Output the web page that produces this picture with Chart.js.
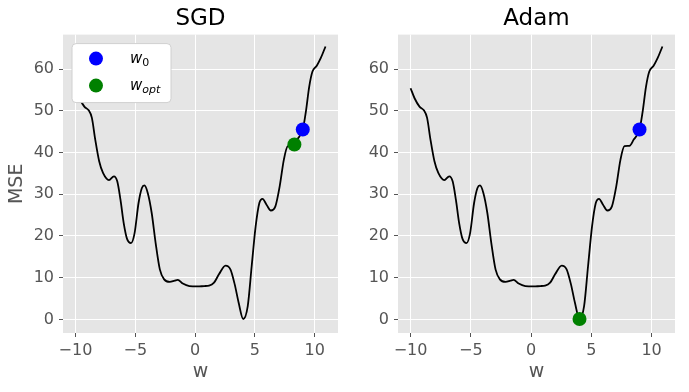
<!DOCTYPE html>
<html>
<head>
<meta charset="utf-8">
<script src="https://cdn.jsdelivr.net/npm/chart.js@4.4.0/dist/chart.umd.min.js"></script>
<style>
  html, body { margin: 0; padding: 0; background: #fff; }
  #wrap { display: flex; width: 689px; height: 392px; }
  canvas { display: block; }
</style>
</head>
<body>
<div id="wrap">
  <canvas id="sgdChart" width="345" height="392"></canvas>
  <canvas id="adamChart" width="344" height="392"></canvas>
</div>
<script>
// Dane krzywej
const wValues = [-10, -9.67, -9.26, -8.9, -8.63, -8.35, -8.02, -7.7, -7.2, -6.79, -6.51, -6.24,
  -5.97, -5.69, -5.36, -5.06, -4.73, -4.45, -4.24, -3.96, -3.63, -3.3, -2.95, -2.59, -2.12,
  -1.71, -1.45, -1.03, -0.48, 0.2, 0.76, 1.17, 1.58, 1.99, 2.54, 2.95, 3.31, 3.64, 4.02, 4.4,
  4.73, 5.06, 5.37, 5.64, 5.97, 6.33, 6.71, 7.07, 7.42, 7.75, 8.16, 8.52, 9.01, 9.26, 9.54,
  9.81, 10.17, 10.5, 10.9];
const mseValues = [55.4, 53.0, 51.0, 50.1, 48.3, 43.1, 37.9, 35.1, 33.4, 34.3, 33.1, 28.7,
  23.1, 19.3, 18.3, 20.7, 27.9, 31.5, 32.1, 30.3, 25.5, 18.3, 12.0, 9.6, 9.0,
  9.3, 9.5, 8.6, 8.0, 7.9, 8.0, 8.1, 8.8, 10.8, 12.9, 12.0, 8.4, 4.0, 0.1, 3.2,
  12.8, 22.3, 27.9, 28.9, 27.5, 26.1, 27.1, 31.9, 38.3, 41.5, 41.6, 43.1, 45.6, 49.8, 55.8,
  59.4, 60.8, 62.6, 65.4];

// Punkty startowe i końcowe
const w0Point = [9.0, 45.5];
const sgdOptPoint = [8.3, 41.9];
const adamOptPoint = [4.02, 0.1];

const xTicks = [-10, -5, 0, 5, 10];
const yTicks = [0, 10, 20, 30, 40, 50, 60];

const FONT = '"DejaVu Sans", sans-serif';
const curve = wValues.map((w, i) => ({ x: w, y: mseValues[i] }));

// Szare tło obszaru wykresu
const panelBg = {
  id: 'panelBg',
  beforeDraw(chart) {
    const { ctx, chartArea: a } = chart;
    ctx.save();
    ctx.fillStyle = '#e5e5e5';
    ctx.fillRect(a.left, a.top, a.width, a.height);
    ctx.restore();
  }
};

// Legenda z indeksami dolnymi (w_0, w_opt)
const mathLegend = {
  id: 'mathLegend',
  afterDatasetsDraw(chart) {
    const { ctx, chartArea: a } = chart;
    const bx = a.left + 9, by = a.top + 9, bw = 99, bh = 59;
    ctx.save();
    ctx.beginPath();
    ctx.roundRect(bx, by, bw, bh, 4);
    ctx.fillStyle = '#ffffff';
    ctx.fill();
    ctx.strokeStyle = '#d0d0d0';
    ctx.lineWidth = 1;
    ctx.stroke();

    const rows = [
      { color: '#0000ff', sub: '0', subItalic: false, y: by + 15 },
      { color: '#008000', sub: 'opt', subItalic: true, y: by + 42 }
    ];
    rows.forEach(r => {
      ctx.beginPath();
      ctx.arc(bx + 24, r.y, 7, 0, Math.PI * 2);
      ctx.fillStyle = r.color;
      ctx.fill();
      ctx.fillStyle = '#000';
      ctx.textBaseline = 'alphabetic';
      ctx.textAlign = 'left';
      ctx.font = 'italic 15px ' + FONT;
      ctx.fillText('w', bx + 58, r.y + 4);
      const ww = ctx.measureText('w').width;
      ctx.font = (r.subItalic ? 'italic ' : '') + '11px ' + FONT;
      ctx.fillText(r.sub, bx + 58 + ww, r.y + 7);
    });
    ctx.restore();
  }
};

function fmtTick(v) {
  return v < 0 ? '\u2212' + Math.abs(v) : String(v);
}

function createChart(canvasId, titleText, optPoint, opts) {
  const datasets = [
    {
      data: [{ x: optPoint[0], y: optPoint[1] }],
      showLine: false, pointRadius: 7, pointHoverRadius: 7,
      pointBackgroundColor: '#008000', pointBorderWidth: 0, order: 0
    },
    {
      data: [{ x: w0Point[0], y: w0Point[1] }],
      showLine: false, pointRadius: 7, pointHoverRadius: 7,
      pointBackgroundColor: '#0000ff', pointBorderWidth: 0, order: 0
    },
    {
      data: curve,
      borderColor: '#000000', borderWidth: 1.8, pointRadius: 0,
      cubicInterpolationMode: 'monotone', fill: false, order: 1
    }
  ];

  return new Chart(document.getElementById(canvasId), {
    type: 'line',
    data: { datasets: datasets },
    plugins: opts.legend ? [panelBg, mathLegend] : [panelBg],
    options: {
      responsive: false,
      animation: false,
      devicePixelRatio: 1,
      events: [],
      layout: { padding: { left: 0, right: opts.padRight, top: 0, bottom: 0 } },
      plugins: {
        legend: { display: false },
        tooltip: { enabled: false },
        title: {
          display: true, text: titleText, fullSize: false, color: '#000',
          font: { family: FONT, size: 23, weight: 'normal', lineHeight: 1.2 },
          padding: { top: 5, bottom: 2 }
        }
      },
      scales: {
        x: {
          type: 'linear', min: -11.045, max: 11.945,
          afterBuildTicks: s => { s.ticks = xTicks.map(v => ({ value: v })); },
          afterFit: s => { s.height = 59; s.paddingLeft = 0; s.paddingRight = 0; },
          grid: { color: '#ffffff', lineWidth: 1, tickLength: 4, tickColor: '#555555', tickWidth: 1 },
          border: { display: false },
          ticks: { color: '#555555', padding: 4, maxRotation: 0, font: { family: FONT, size: 16 }, callback: fmtTick },
          title: { display: true, text: 'w', color: '#555555', font: { family: FONT, size: 19 }, padding: { top: 0, bottom: 9 } }
        },
        y: {
          type: 'linear', min: -3.25, max: 68.25,
          afterBuildTicks: s => { s.ticks = yTicks.map(v => ({ value: v })); },
          afterFit: s => { s.width = opts.yWidth; s.paddingTop = 0; s.paddingBottom = 0; },
          grid: { color: '#ffffff', lineWidth: 1, tickLength: 4, tickColor: '#555555', tickWidth: 1 },
          border: { display: false },
          ticks: { color: '#555555', padding: 5, font: { family: FONT, size: 16 }, callback: fmtTick },
          title: { display: opts.yTitle, text: 'MSE', color: '#555555', font: { family: FONT, size: 19 }, padding: { top: 6, bottom: 0 } }
        }
      }
    }
  });
}

createChart('sgdChart', 'SGD', sgdOptPoint, { legend: true, yTitle: true, yWidth: 63, padRight: 4 });
createChart('adamChart', 'Adam', adamOptPoint, { legend: false, yTitle: false, yWidth: 53, padRight: 14 });
</script>
</body>
</html>
